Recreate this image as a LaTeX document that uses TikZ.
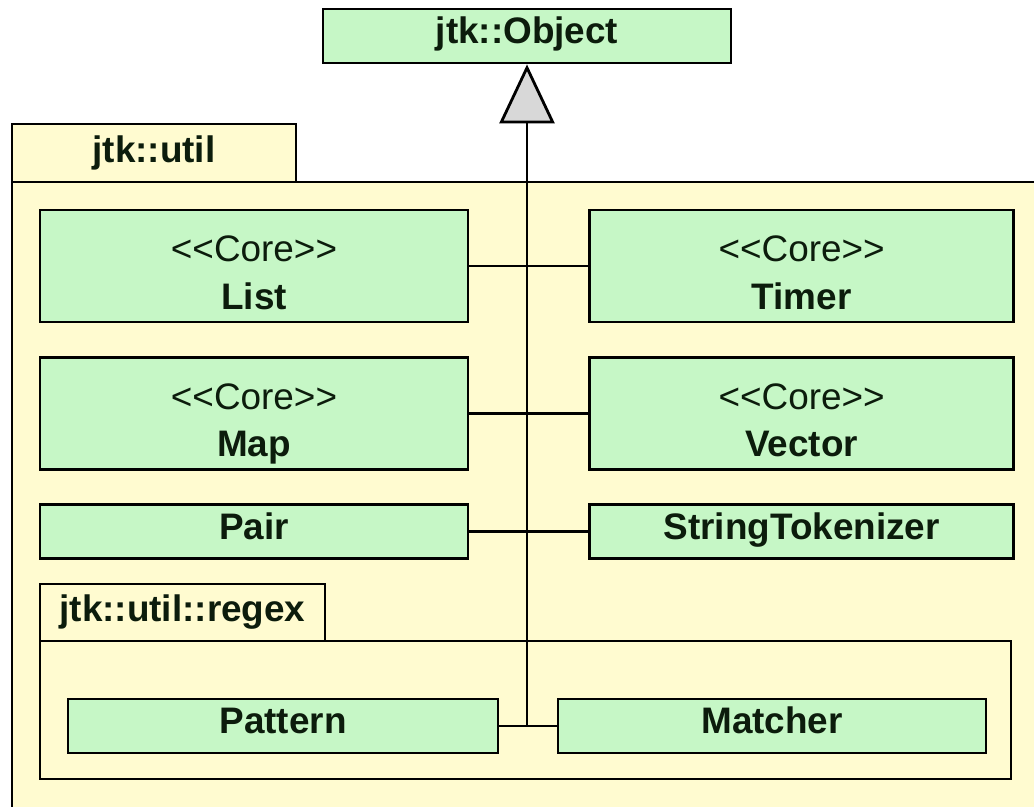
\documentclass[tikz,border=0pt]{standalone}
\usepackage{fontspec}
\setmainfont{Liberation Sans}
\usepackage{tikz}
\usetikzlibrary{arrows.meta}
\usetikzlibrary{positioning}

\definecolor{classgreen}{RGB}{198,247,198}
\definecolor{pkgyellow}{RGB}{255,251,208}
\definecolor{tipgray}{RGB}{216,216,216}
\definecolor{inkdark}{RGB}{12,28,12}

% stereotype text, kerns keep the << >> pairs apart
\newcommand{\stereo}[1]{{\mdseries <\kern0pt<#1>\kern0pt>}}
% two line class text with fixed line heights
\newcommand{\coretext}[1]{\rule{0pt}{28pt}\stereo{Core}\\#1\rule[-6pt]{0pt}{6pt}}

\begin{document}
\begin{tikzpicture}[x=0.02cm,y=-0.02cm,line width=1.6pt,
	every node/.style={font=\fontsize{21}{27}\selectfont\bfseries, text=inkdark},
	box base/.style={draw, fill=classgreen, inner sep=0pt, align=center},
	class node/.style={box base, minimum height=1.08cm,
		execute at begin node=\rule{0pt}{17pt}, execute at end node=\rule[-8.5pt]{0pt}{8.5pt}},
	core node/.style={box base, minimum height=2.24cm},
	tab node/.style={draw, fill=pkgyellow, minimum height=1.16cm, inner sep=0pt,
		execute at begin node=\strut},
	pkg body/.style={draw, fill=pkgyellow},
	inherit/.style={-{Triangle[length=1.18cm,width=1.1cm,fill=tipgray]}}]
	\useasboundingbox (0,0) rectangle (1034,807);
	
	% Packages
	\draw[pkg body] (12,182) rectangle (1046,819);
	\node[tab node, minimum width=5.68cm] (util) at (154,153) {jtk::util};
	\draw[pkg body] (40,641) rectangle (1011,779);
	\node[tab node, minimum width=5.7cm, minimum height=1.14cm] (regex) at (182.5,612.5) {jtk::util::regex};
	
	% Nodes
	\node[class node, minimum width=8.16cm] (object) at (527,36) {jtk::Object};
	\node[core node, minimum width=8.56cm] (list) at (254,266) {\coretext{List}};
	\node[core node, minimum width=8.48cm] (timer) [right=2.38cm of list] {\coretext{Timer}};
	\node[core node, minimum width=8.56cm] (map) [below=0.66cm of list] {\coretext{Map}};
	\node[core node, minimum width=8.48cm] (vector) [below=0.66cm of timer] {\coretext{Vector}};
	\node[class node, minimum width=8.56cm] (pair) [below=0.64cm of map] {Pair};
	\node[class node, minimum width=8.48cm] (tokenizer) [below=0.64cm of vector] {StringTokenizer};
	\node[class node, minimum width=8.6cm] (pattern) at (283,726) {Pattern};
	\node[class node, minimum width=8.56cm] (matcher) at (772,726) {Matcher};
	
	% Links
	\coordinate (join) at (object.south |- pattern.east);
	\draw (list) -- (timer);
	\draw (map) -- (vector);
	\draw (pair) -- (tokenizer);
	\draw (pattern) -- (matcher);
	\draw[inherit] (join) -- (object.south);
	
\end{tikzpicture}
\end{document}
